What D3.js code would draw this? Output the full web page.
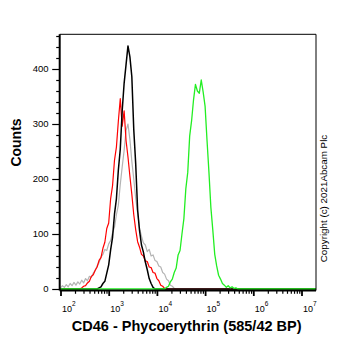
<!DOCTYPE html>
<meta charset="utf-8">
<script src="https://d3js.org/d3.v7.min.js"></script>
<style>
  body { margin: 0; background: #fff; }
  svg { display: block; font-family: "Liberation Sans", Arial, sans-serif; }
</style>
<body>
<div id="chart"></div>
<script>
// histogram bins are in log10 units, all series share the same bin width
var binStep = 0.04;

var grayStart = 2.00;
var grayCounts = [2, 6, 3, 8, 4, 10, 6, 12, 7, 13, 9, 16, 11, 19, 15, 23, 21, 29, 34, 42,
  48, 58, 63, 72, 70, 82, 88, 102, 112, 135, 152, 190, 222, 252, 288, 300, 272, 232, 200,
  165, 138, 110, 96, 84, 80, 68, 72, 60, 62, 52, 50, 42, 40, 30, 27, 18, 15, 7, 5, 1, 0];

var redStart = 2.40;
var redCounts = [0, 2, 5, 6, 11, 14, 23, 26, 34, 40, 52, 57, 74, 85, 110, 120, 164, 188, 234,
  258, 305, 346, 296, 324, 270, 240, 205, 172, 135, 108, 86, 76, 63, 60, 51, 50, 40, 39,
  30, 29, 19, 15, 7, 5, 1, 0];

var blackStart = 2.76;
var blackCounts = [0, 2, 4, 10, 14, 29, 44, 71, 94, 136, 164, 216, 254, 324, 374, 408, 442,
  422, 386, 290, 228, 144, 106, 80, 67, 49, 35, 19, 10, 3, 0];

var greenStart = 4.16;
var greenCounts = [0, 3, 5, 13, 18, 30, 38, 62, 70, 100, 128, 182, 212, 278, 306, 344, 372,
  360, 356, 380, 358, 332, 270, 212, 148, 107, 63, 42, 25, 18, 10, 7, 3, 6, 2, 4, 1, 2, 0];

var xTickExp = [2, 3, 4, 5, 6, 7];
var yTicks = [0, 100, 200, 300, 400];

var W = 362, H = 351;
var box = {left: 59.7, right: 316, top: 34.3, bottom: 290.5};

var svg = d3.select("#chart").append("svg")
  .attr("width", W).attr("height", H);

var x = d3.scaleLog().domain([1e2, 1e7]).range([60.5, 301.5]);
var y = d3.scaleLinear().domain([0, 100]).range([289, 234]);

var xMin = x.invert(box.left), xMax = x.invert(box.right);

function series(start, counts) {
  var pts = counts.map(function(c, i) {
    return {v: Math.pow(10, start + i * binStep), c: c};
  });
  // zero counts run along the baseline out to the plot edges
  pts.unshift({v: xMin, c: 0});
  pts.push({v: xMax, c: 0});
  return pts;
}

var line = d3.line()
  .x(function(d) { return x(d.v); })
  .y(function(d) { return y(d.c); });

var curves = [
  {data: series(grayStart, grayCounts), color: "#b4b4b4", w: 1.2},
  {data: series(redStart, redCounts), color: "#ff0000", w: 1.2},
  {data: series(blackStart, blackCounts), color: "#000000", w: 1.5},
  {data: series(greenStart, greenCounts), color: "#22ee22", w: 1.3}
];

svg.append("defs").append("clipPath").attr("id", "clip")
  .append("rect")
  .attr("x", box.left).attr("y", box.top)
  .attr("width", box.right - box.left).attr("height", box.bottom - box.top);

var plotG = svg.append("g").attr("clip-path", "url(#clip)");

plotG.selectAll("path.curve")
  .data(curves)
  .enter().append("path")
  .attr("class", "curve")
  .attr("d", function(d) { return line(d.data); })
  .attr("fill", "none")
  .attr("stroke", function(d) { return d.color; })
  .attr("stroke-width", function(d) { return d.w; })
  .attr("stroke-linejoin", "round");

// frame
svg.append("line").attr("x1", box.left).attr("x2", box.right)
  .attr("y1", box.top).attr("y2", box.top)
  .attr("stroke", "#000").attr("stroke-width", 1);
svg.append("line").attr("x1", box.right).attr("x2", box.right)
  .attr("y1", box.top).attr("y2", box.bottom)
  .attr("stroke", "#000").attr("stroke-width", 1);

// y axis
var yAxis = d3.axisLeft(y)
  .tickValues(d3.range(0, 461, 20))
  .tickSize(3.5)
  .tickFormat("");
var yG = svg.append("g").attr("transform", "translate(" + box.left + ",0)").call(yAxis);
yG.select(".domain").attr("d", "M0," + box.top + "V" + box.bottom).attr("stroke-width", 2);
yG.selectAll(".tick line").attr("stroke-width", 1.2);
yG.selectAll(".tick").filter(function(d) { return d % 100 === 0; })
  .select("line").attr("x2", -7.5);

svg.append("g").selectAll("text")
  .data(yTicks).enter().append("text")
  .attr("x", 48.5)
  .attr("y", function(d) { return y(d) + 3.3; })
  .attr("text-anchor", "end")
  .attr("font-size", "9.5px")
  .text(function(d) { return d; });

// x axis (log decades with 2..9 minor ticks)
var minorVals = [];
xTickExp.forEach(function(e) {
  if (e < 7) d3.range(2, 10).forEach(function(m) { minorVals.push(m * Math.pow(10, e)); });
});
var xAxis = d3.axisBottom(x)
  .tickValues(minorVals.concat(xTickExp.map(function(e) { return Math.pow(10, e); })))
  .tickSize(3.3)
  .tickFormat("");
var xG = svg.append("g").attr("transform", "translate(0," + box.bottom + ")").call(xAxis);
xG.select(".domain").attr("d", "M" + box.left + ",0H" + box.right).attr("stroke-width", 2);
xG.selectAll(".tick line").attr("stroke-width", 1.2);
xG.selectAll(".tick").filter(function(d) { return xTickExp.indexOf(Math.round(Math.log10(d) * 1000) / 1000) >= 0; })
  .select("line").attr("y2", 5.5).attr("stroke-width", 1.8);

var xl = svg.append("g").selectAll("text")
  .data(xTickExp).enter().append("text")
  .attr("x", function(d) { return x(Math.pow(10, d)) + 1.5; })
  .attr("y", 311.5)
  .attr("font-size", "9px");
xl.append("tspan").text("10");
xl.append("tspan").attr("dy", -6).attr("font-size", "6.5px").text(function(d) { return d; });

// axis titles
svg.append("text")
  .attr("x", 186.7).attr("y", 330.5)
  .attr("text-anchor", "middle")
  .attr("font-size", "14.5px").attr("font-weight", "bold")
  .text("CD46 - Phycoerythrin (585/42 BP)");

svg.append("text")
  .attr("transform", "translate(21,142.5) rotate(-90)")
  .attr("text-anchor", "middle")
  .attr("font-size", "14px").attr("font-weight", "bold")
  .text("Counts");

svg.append("text")
  .attr("transform", "translate(327,198.5) rotate(-90)")
  .attr("text-anchor", "middle")
  .attr("font-size", "9.8px")
  .text("Copyright (c) 2021Abcam Plc");
</script>
</body>
